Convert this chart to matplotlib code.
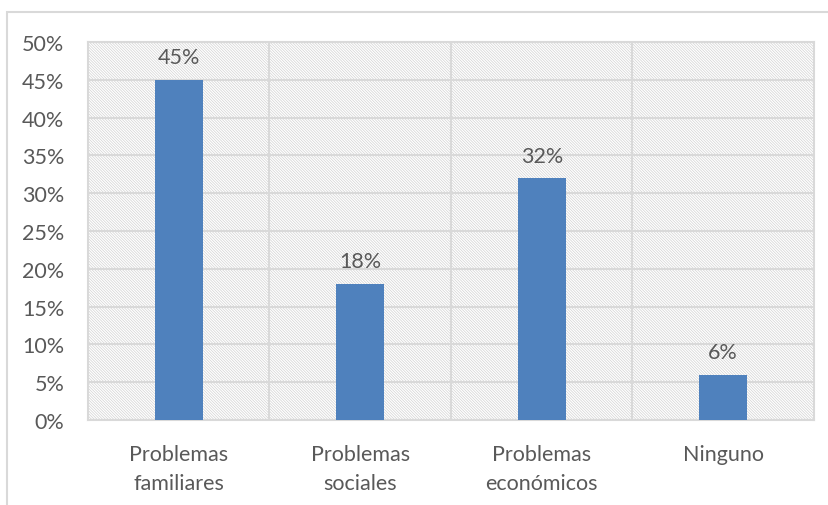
import matplotlib.pyplot as plt
from matplotlib.patches import Rectangle

# Datos del gráfico
categorias = ["Problemas\nfamiliares", "Problemas\nsociales", "Problemas\neconómicos", "Ninguno"]
valores = [45, 18, 32, 6]
marcas_y = [0, 5, 10, 15, 20, 25, 30, 35, 40, 45, 50]

plt.rcParams["font.family"] = ["Lato", "DejaVu Sans"]
gris_texto = "#595959"
gris_linea = "#d9d9d9"

fig = plt.figure(figsize=(8.29, 5.06), dpi=100)
ax = fig.add_axes([88 / 829, 85 / 506, 726 / 829, 378 / 506])

# Marco exterior del gráfico
fig.patches.append(Rectangle((7 / 829, -0.1), 1.2, (506 - 13) / 506 + 0.1,
                             transform=fig.transFigure, fill=False,
                             edgecolor=gris_linea, linewidth=1.5))

# Fondo rayado del área de trazado
plt.rcParams["hatch.linewidth"] = 0.5
plt.rcParams["hatch.color"] = "#d2d2d2"
ax.add_patch(Rectangle((0, 0), 1, 1, transform=ax.transAxes, facecolor="white",
                       hatch="\\" * 12, edgecolor="#d2d2d2", linewidth=0, zorder=0))

x = list(range(len(categorias)))
barras = ax.bar(x, valores, width=0.265, color="#4f81bd", zorder=3)

for xi, v in zip(x, valores):
    ax.annotate(f"{v}%", (xi, v), xytext=(0, 9), textcoords="offset points",
                ha="center", va="bottom", fontsize=15.5, color=gris_texto, zorder=4)

ax.set_xlim(-0.5, len(categorias) - 0.5)
ax.set_ylim(0, 50)
ax.set_yticks(marcas_y)
ax.set_yticklabels([f"{m}%" for m in marcas_y])
ax.set_xticks(x)
ax.set_xticklabels(categorias, linespacing=1.6)
ax.set_xticks([0.5, 1.5, 2.5], minor=True)

ax.grid(True, axis="y", color=gris_linea, linewidth=1.5, zorder=1)
ax.grid(True, axis="x", which="minor", color=gris_linea, linewidth=1.5, zorder=1)
ax.set_axisbelow(True)

ax.tick_params(axis="both", which="both", length=0, colors=gris_texto, labelsize=15.5)
ax.tick_params(axis="y", pad=17)
ax.tick_params(axis="x", pad=17)

for s in ax.spines.values():
    s.set_color(gris_linea)
    s.set_linewidth(1.5)

fig.savefig("out.png", dpi=100)
